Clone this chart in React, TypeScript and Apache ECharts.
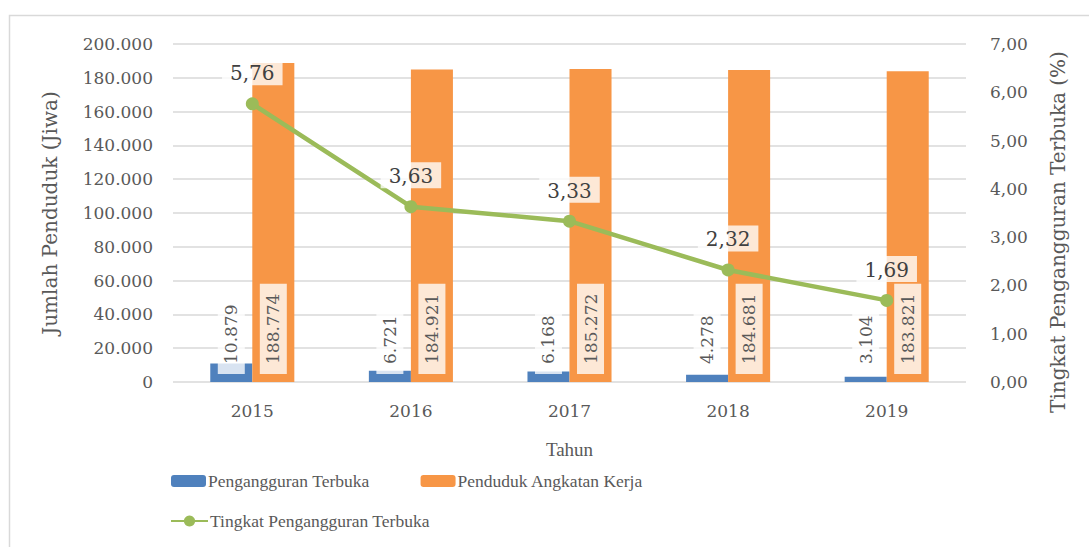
import React, { useEffect, useRef } from "react";
import * as echarts from "echarts";

const years = ["2015", "2016", "2017", "2018", "2019"];
const penganggurTerbuka = [10879, 6721, 6168, 4278, 3104];
const angkatanKerja = [188774, 184921, 185272, 184681, 183821];
const tpt = [5.76, 3.63, 3.33, 2.32, 1.69];

const SERIF = "'DejaVu Serif', serif";
const NARROW = "'Liberation Serif', serif";
const TXT = "#595959";

const fmtThousand = (v: number) =>
  String(Math.round(v)).replace(/\B(?=(\d{3})+(?!\d))/g, ".");
const fmtDec = (v: number) => v.toFixed(2).replace(".", ",");

export default function App() {
  const ref = useRef<HTMLDivElement>(null);
  useEffect(() => {
    document.body.style.margin = "0";
    const chart = echarts.init(ref.current!, undefined, { renderer: "svg" });
    const barLabel = {
      show: true,
      position: "insideBottom",
      distance: 8,
      rotate: 90,
      align: "left",
      verticalAlign: "middle",
      fontFamily: SERIF,
      fontSize: 17,
      color: TXT,
      backgroundColor: "rgba(255,255,255,0.78)",
      padding: [6, 10, 4, 10],
      formatter: (p: any) => fmtThousand(p.value),
    };
    chart.setOption({
      animation: false,
      backgroundColor: "#ffffff",
      textStyle: { fontFamily: SERIF },
      graphic: [
        {
          type: "rect",
          shape: { x: 9.5, y: 15.5, width: 1200, height: 700 },
          style: { fill: "none", stroke: "#d9d9d9", lineWidth: 1.5 },
          silent: true,
          z: -10,
        },
        {
          type: "text",
          x: 1058,
          y: 232,
          rotation: Math.PI / 2,
          style: {
            text: "Tingkat Pengangguran Terbuka (%)",
            fontFamily: SERIF,
            fontSize: 20,
            fill: TXT,
            align: "center",
            verticalAlign: "middle",
          },
        },
      ],
      grid: { left: 173, right: 123, top: 44, bottom: 165 },
      legend: [
        {
          data: ["Pengangguran Terbuka", "Penduduk Angkatan Kerja"],
          left: 166,
          top: 467,
          itemWidth: 35,
          itemHeight: 12,
          itemGap: 51,
          textStyle: { fontFamily: NARROW, fontSize: 17.5, color: TXT, padding: [0, 0, 0, -3] },
        },
        {
          data: ["Tingkat Pengangguran Terbuka"],
          left: 165,
          top: 507,
          itemWidth: 37,
          itemHeight: 14,
          textStyle: { fontFamily: NARROW, fontSize: 17.5, color: TXT, padding: [0, 0, 0, -3] },
        },
      ],
      xAxis: {
        type: "category",
        data: years,
        axisLine: { show: false },
        axisTick: { show: false },
        axisLabel: { color: TXT, fontSize: 17, fontFamily: SERIF, margin: 20 },
        name: "Tahun",
        nameLocation: "middle",
        nameGap: 58,
        nameTextStyle: { color: TXT, fontSize: 19, fontFamily: NARROW },
      },
      yAxis: [
        {
          type: "value",
          min: 0,
          max: 200000,
          interval: 20000,
          axisLine: { show: false },
          axisTick: { show: false },
          splitLine: { lineStyle: { color: "#d9d9d9", width: 1.5 } },
          axisLabel: {
            color: TXT,
            fontSize: 17,
            fontFamily: SERIF,
            margin: 20,
            formatter: (v: number) => fmtThousand(v),
          },
          name: "Jumlah Penduduk (Jiwa)",
          nameLocation: "middle",
          nameRotate: 90,
          nameGap: 113,
          nameTextStyle: { color: TXT, fontSize: 20, fontFamily: SERIF },
        },
        {
          type: "value",
          min: 0,
          max: 7,
          interval: 1,
          axisLine: { show: false },
          axisTick: { show: false },
          splitLine: { show: false },
          axisLabel: {
            color: TXT,
            fontSize: 17,
            fontFamily: SERIF,
            margin: 24,
            formatter: (v: number) => fmtDec(v),
          },
        },
      ],
      series: [
        {
          name: "Pengangguran Terbuka",
          type: "bar",
          data: penganggurTerbuka,
          barWidth: "26.5%",
          barGap: "0%",
          itemStyle: { color: "#4f81bd" },
          label: barLabel,
          z: 2,
        },
        {
          name: "Penduduk Angkatan Kerja",
          type: "bar",
          data: angkatanKerja,
          barWidth: "26.5%",
          barGap: "0%",
          itemStyle: { color: "#f79646" },
          label: barLabel,
          z: 2,
        },
        {
          name: "Tingkat Pengangguran Terbuka",
          type: "line",
          yAxisIndex: 1,
          data: tpt,
          symbol: "circle",
          symbolSize: 13,
          lineStyle: { color: "#9bbb59", width: 4.5 },
          itemStyle: { color: "#9bbb59" },
          label: {
            show: true,
            position: "top",
            distance: 12,
            fontFamily: SERIF,
            fontSize: 20,
            color: "#404040",
            backgroundColor: "rgba(255,255,255,0.78)",
            padding: [4, 8, 2, 8],
            formatter: (p: any) => fmtDec(p.value),
          },
          z: 5,
        },
      ],
    });
    return () => chart.dispose();
  }, []);
  return (
    <div
      ref={ref}
      style={{ position: "fixed", left: 0, top: 0, width: 1089, height: 547 }}
    />
  );
}
